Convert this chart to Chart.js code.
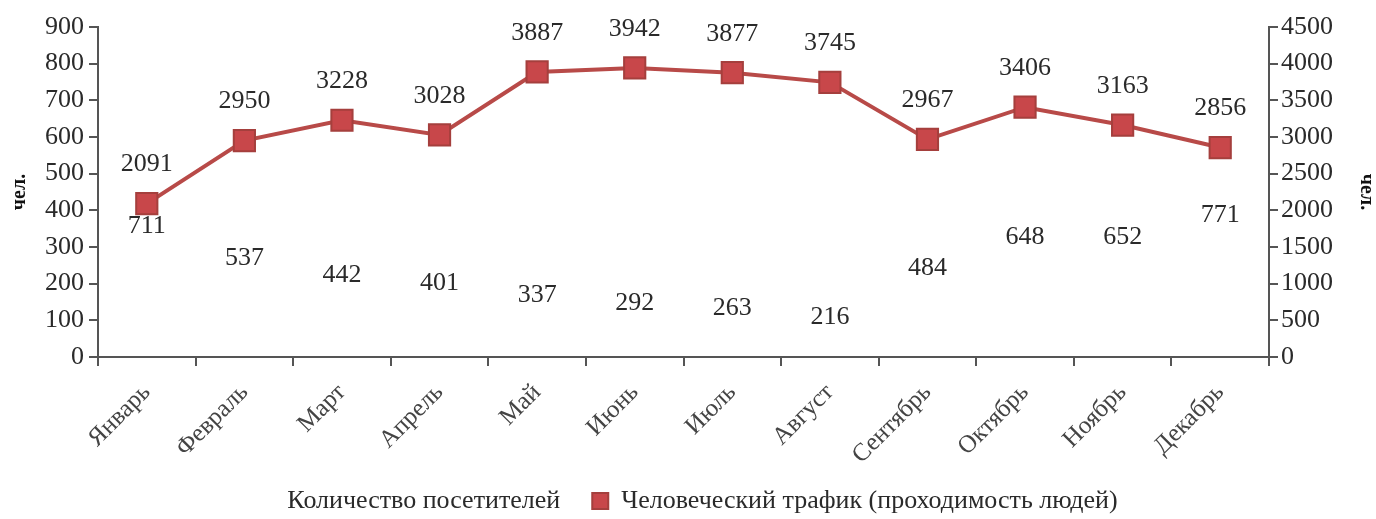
<!DOCTYPE html>
<html>
<head>
<meta charset="utf-8">
<script src="https://cdn.jsdelivr.net/npm/chart.js@4.4.1/dist/chart.umd.min.js"></script>
<style>
  body { margin: 0; background: #fff; }
  .wrap { width: 1376px; height: 519px; }
</style>
</head>
<body>
<div class="wrap"><canvas id="myChart"></canvas></div>
<script>
"use strict"

const months = ['Январь', 'Февраль', 'Март', 'Апрель', 'Май', 'Июнь',
    'Июль', 'Август', 'Сентябрь', 'Октябрь', 'Ноябрь', 'Декабрь'];
const visitors = [711, 537, 442, 401, 337, 292, 263, 216, 484, 648, 652, 771];
const traffic = [2091, 2950, 3228, 3028, 3887, 3942, 3877, 3745, 2967, 3406, 3163, 2856];

const serif = '"Liberation Serif", "Times New Roman", serif';
const axisColor = '#555';
const textColor = '#2a2a2a';

// numbers over the points and in the middle of the (empty) bars
const valueLabels = {
    id: 'valueLabels',
    afterDatasetsDraw(chart) {
        const ctx = chart.ctx;
        ctx.save();
        ctx.font = '26px ' + serif;
        ctx.fillStyle = textColor;
        ctx.textAlign = 'center';
        ctx.textBaseline = 'middle';
        chart.getDatasetMeta(0).data.forEach((bar, i) => {
            ctx.fillText(visitors[i], bar.x, (bar.y + bar.base) / 2);
        });
        chart.getDatasetMeta(1).data.forEach((pt, i) => {
            ctx.fillText(traffic[i], pt.x, pt.y - 39);
        });
        ctx.restore();
    }
};

Chart.defaults.font.family = serif;
Chart.defaults.color = textColor;

let theChart = new Chart(document.getElementById('myChart'), {
    data: {
        labels: months,
        datasets: [{
            type: 'bar',
            label: 'Количество посетителей',
            data: visitors,
            yAxisID: 'y',
            backgroundColor: 'rgba(0,0,0,0)',
            borderWidth: 0,
            pointStyle: 'rect',
        }, {
            type: 'line',
            label: 'Человеческий трафик (проходимость людей)',
            data: traffic,
            yAxisID: 'y1',
            borderColor: '#b84a48',
            borderWidth: 4,
            backgroundColor: '#c8474a',
            pointStyle: 'rect',
            pointRadius: 15,
            pointHoverRadius: 15,
            pointBackgroundColor: '#c8474a',
            pointBorderColor: '#a53f3d',
            pointBorderWidth: 2,
            tension: 0,
        }]
    },
    options: {
        responsive: true,
        maintainAspectRatio: false,
        animation: false,
        layout: { padding: { left: 0, right: 0, top: 27, bottom: -5 } },
        scales: {
            x: {
                offset: true,
                grid: { display: true, drawOnChartArea: false, offset: true, tickLength: 9, color: axisColor, lineWidth: 2 },
                border: { color: axisColor, width: 2 },
                ticks: { minRotation: 45, maxRotation: 45, font: { size: 25 }, color: '#444', padding: 12 },
            },
            y: {
                position: 'left',
                min: 0,
                max: 900,
                ticks: { stepSize: 100, font: { size: 26 }, padding: 5 },
                grid: { drawOnChartArea: false, tickLength: 9, color: axisColor, lineWidth: 2 },
                border: { color: axisColor, width: 2 },
                title: { display: true, text: 'чел.', font: { size: 20, weight: 'bold', lineHeight: 1 }, color: '#111', padding: { top: 10, bottom: 10 } },
            },
            y1: {
                position: 'right',
                min: 0,
                max: 4500,
                ticks: { stepSize: 500, font: { size: 26 }, padding: 3, callback: (v) => String(v) },
                grid: { drawOnChartArea: false, tickLength: 9, color: axisColor, lineWidth: 2 },
                border: { color: axisColor, width: 2 },
                title: { display: true, text: 'чел.', font: { size: 20, weight: 'bold', lineHeight: 1 }, color: '#111', padding: { top: 0, bottom: 20 } },
            },
        },
        plugins: {
            legend: {
                position: 'bottom',
                labels: {
                    usePointStyle: true,
                    boxWidth: 16,
                    boxHeight: 16,
                    font: { size: 26 },
                    color: textColor,
                    padding: 6,
                    // a wider gap after the first item, as in the original
                    generateLabels(chart) {
                        const items = Chart.defaults.plugins.legend.labels.generateLabels(chart);
                        items[0].text = items[0].text + '    ';
                        return items;
                    },
                },
            },
            tooltip: { enabled: false },
        }
    },
    plugins: [valueLabels]
});
</script>
</body>
</html>
